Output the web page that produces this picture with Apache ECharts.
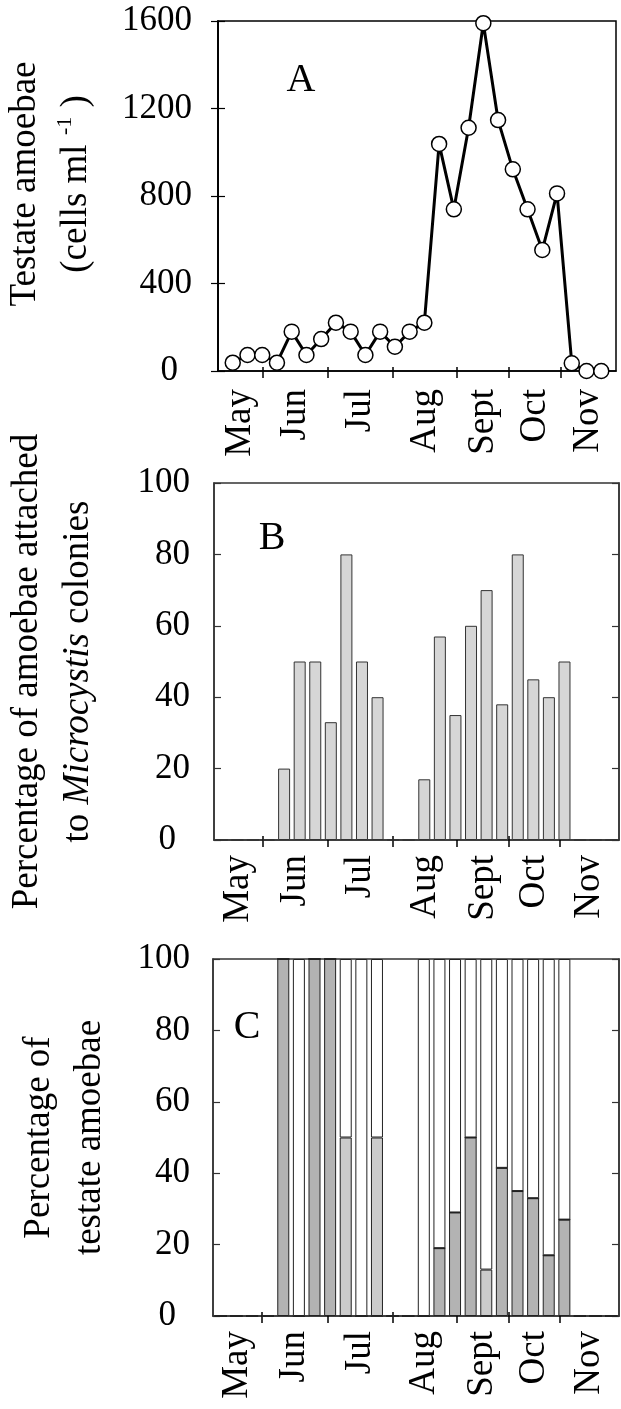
<!DOCTYPE html>
<html>
<head>
<meta charset="utf-8">
<script src="https://cdn.jsdelivr.net/npm/echarts@6/dist/echarts.min.js"></script>
<style>
html,body{margin:0;padding:0;background:#fff;}
#chart{width:621px;height:1409px;}
</style>
</head>
<body>
<div id="chart"></div>
<script>
// ---------- DATA ----------
const months = ['May', 'Jun', 'Jul', 'Aug', 'Sept', 'Oct', 'Nov'];
const samples = [1,2,3,4,5,6,7,8,9,10,11,12,13,14,15,16,17,18,19,20,21,22,23,24,25,26];
// month boundaries, expressed in sample units of each panel's x scale
const monthBoundsA = [3.05, 7.46, 11.87, 16.21, 19.74, 23.27];
const monthBoundsBC = [3.65, 7.82, 11.99, 16.1, 19.43, 22.71];
// Panel A: testate amoebae (cells ml-1)
const amoebaeCells = [38, 73, 73, 38, 180, 73, 146, 221, 180, 73, 180, 111, 180, 221,
                      1038, 739, 1112, 1590, 1147, 922, 739, 553, 812, 35, 0, 0];
// Panel B: percentage attached to Microcystis colonies
const attachedPct = [0, 0, 0, 0, 20, 50, 50, 33, 80, 50, 40, 0, 0,
                     17, 57, 35, 60, 70, 38, 80, 45, 40, 50, 0, 0, 0];
// Panel C: percentage of testate amoebae (stacked)
const darkPct  = [0, 0, 0, 0, 100, 0, 100, 100, 0, 0, 0, 0, 0,
                  0, 19, 29, 50, 0, 41.5, 35, 33, 17, 27, 0, 0, 0];
const lightPct = [0, 0, 0, 0, 0, 0, 0, 0, 50, 0, 50, 0, 0,
                  0, 0, 0, 0, 13, 0, 0, 0, 0, 0, 0, 0, 0];
const whitePct = [0, 0, 0, 0, 0, 100, 0, 0, 50, 100, 50, 0, 0,
                  100, 81, 71, 50, 87, 58.5, 65, 67, 83, 73, 0, 0, 0];
const ticksA = [0, 400, 800, 1200, 1600];
const ticksPct = [0, 20, 40, 60, 80, 100];

// ---------- HELPERS ----------
const FONT = 'Liberation Serif';
function labelPositions(bounds, min, max) {
  const edges = [min].concat(bounds, [max]);
  const out = [];
  for (let i = 0; i < edges.length - 1; i++) out.push((edges[i] + edges[i + 1]) / 2);
  return out;
}
function monthFormatter(pos) {
  return function (v) {
    let best = 0, d = Infinity;
    pos.forEach((p, i) => { if (Math.abs(p - v) < d) { d = Math.abs(p - v); best = i; } });
    return months[best];
  };
}
function yFmt(v) { return v === 0 ? '{z|0}' : String(v); }
const zRich = { z: { fontFamily: FONT, fontSize: 35, color: '#000', padding: [0, 14, 0, 0] } };

function xAxes(grid, min, max, bounds, color, margin, showLine) {
  const pos = labelPositions(bounds, min, max);
  return [
    {
      type: 'value', gridIndex: grid, min: min, max: max, position: 'bottom',
      axisLine: { show: showLine, lineStyle: { color: color, width: 1.5 } },
      axisTick: { show: true, inside: false, length: 7, customValues: bounds, lineStyle: { color: '#000', width: 1.5 } },
      axisLabel: { show: true, customValues: pos, rotate: 90, margin: margin, formatter: monthFormatter(pos),
                   fontFamily: FONT, fontSize: 37, color: '#000' },
      splitLine: { show: false }
    },
    {
      type: 'value', gridIndex: grid, min: min, max: max, position: 'bottom',
      axisLine: { show: false },
      axisTick: { show: true, inside: true, length: 4, customValues: bounds, lineStyle: { color: '#000', width: 1.5 } },
      axisLabel: { show: false },
      splitLine: { show: false }
    }
  ];
}
function yAxes(grid, max, interval, color, margin, name, nameGap, namePadding, rich) {
  return [
    {
      type: 'value', gridIndex: grid, min: 0, max: max, interval: interval, position: 'left',
      axisLine: { show: true, lineStyle: { color: color, width: 1.5 } },
      axisTick: { show: true, inside: true, length: 7, lineStyle: { color: color, width: 1.2 } },
      axisLabel: { margin: margin, formatter: yFmt, rich: zRich, fontFamily: FONT, fontSize: 35, color: '#000' },
      splitLine: { show: false },
      name: name, nameLocation: 'middle', nameRotate: 90, nameGap: nameGap,
      nameTextStyle: Object.assign({ fontFamily: FONT, fontSize: 37, color: '#000', lineHeight: 51,
                       align: 'center', padding: namePadding }, rich ? { rich: rich } : {})
    },
    {
      type: 'value', gridIndex: grid, min: 0, max: max, interval: interval, position: 'right',
      axisLine: { show: true, lineStyle: { color: color, width: 1.5 } },
      axisTick: { show: true, inside: true, length: 7, lineStyle: { color: color, width: 1.2 } },
      axisLabel: { show: false },
      splitLine: { show: false }
    }
  ];
}

const richA = {
  sup: { fontFamily: FONT, fontSize: 22, color: '#000', verticalAlign: 'top', padding: [3, 0, 0, 0] }
};
const richB = {
  i: { fontFamily: FONT, fontSize: 37, fontStyle: 'italic', color: '#000', lineHeight: 51 }
};

const xA = xAxes(0, 0, 27, monthBoundsA, '#000', 18, true);
const xB = xAxes(1, 0.5, 26.5, monthBoundsBC, '#333', 15, true);
// Panel C: category axis carries the stacked bars, value axes carry month ticks/labels
const xCcat = {
  type: 'category', gridIndex: 2, data: samples, boundaryGap: true, position: 'bottom',
  axisLine: { show: true, lineStyle: { color: '#333', width: 1.5 } },
  axisTick: { show: false }, axisLabel: { show: false }, splitLine: { show: false }
};
const xC = xAxes(2, 0.5, 26.5, monthBoundsBC, '#333', 15, false);

const yA = yAxes(0, ticksA[ticksA.length - 1], ticksA[1] - ticksA[0], '#000', 26,
                 'Testate amoebae\n(cells ml {sup|-1} )', 116, [0, 0, 0, 24], richA);
const yB = yAxes(1, ticksPct[ticksPct.length - 1], ticksPct[1] - ticksPct[0], '#333', 24,
                 'Percentage of amoebae attached\nto {i|Microcystis} colonies', 110, [0, 20, 0, 0], richB);
const yC = yAxes(2, ticksPct[ticksPct.length - 1], ticksPct[1] - ticksPct[0], '#333', 23,
                 'Percentage of\ntestate amoebae', 97, [0, 0, 0, 0], null);

const gridBase = { show: true, borderWidth: 1.5, containLabel: false, outerBoundsMode: 'none' };
const option = {
  animation: false,
  backgroundColor: '#fff',
  grid: [
    Object.assign({ left: 218, right: 5, top: 21, height: 350, borderColor: '#000' }, gridBase),
    Object.assign({ left: 214, right: 2, top: 483, height: 357, borderColor: '#333' }, gridBase),
    Object.assign({ left: 213, right: 2, top: 959, height: 357, borderColor: '#333' }, gridBase)
  ],
  // indices: A 0,1 | B 2,3 | C 4 (category), 5, 6
  xAxis: [].concat(xA, xB, [xCcat], xC),
  yAxis: [].concat(yA, yB, yC),
  graphic: [
    { type: 'text', x: 301, y: 80, style: { text: 'A', fontFamily: FONT, fontSize: 40, fill: '#000', align: 'center', verticalAlign: 'middle' } },
    { type: 'text', x: 272, y: 538, style: { text: 'B', fontFamily: FONT, fontSize: 40, fill: '#000', align: 'center', verticalAlign: 'middle' } },
    { type: 'text', x: 247, y: 1027, style: { text: 'C', fontFamily: FONT, fontSize: 40, fill: '#000', align: 'center', verticalAlign: 'middle' } }
  ],
  series: [
    {
      type: 'line', xAxisIndex: 0, yAxisIndex: 0,
      data: samples.map((s, i) => [s, amoebaeCells[i]]),
      symbol: 'circle', symbolSize: 15, clip: false,
      lineStyle: { color: '#000', width: 3 },
      itemStyle: { color: '#fff', borderColor: '#000', borderWidth: 1.5 },
      z: 5
    },
    {
      type: 'bar', xAxisIndex: 2, yAxisIndex: 2,
      data: samples.map((s, i) => [s, attachedPct[i]]),
      barWidth: 12,
      itemStyle: { color: '#d6d6d6', borderColor: '#333', borderWidth: 1 }
    },
    {
      type: 'bar', xAxisIndex: 4, yAxisIndex: 4, stack: 'c',
      data: darkPct,
      barWidth: 12,
      itemStyle: { color: '#b3b3b3', borderColor: '#222', borderWidth: 1 }
    },
    {
      type: 'bar', xAxisIndex: 4, yAxisIndex: 4, stack: 'c',
      data: lightPct,
      barWidth: 12,
      itemStyle: { color: '#cbcbcb', borderColor: '#222', borderWidth: 1 }
    },
    {
      type: 'bar', xAxisIndex: 4, yAxisIndex: 4, stack: 'c',
      data: whitePct,
      barWidth: 12,
      itemStyle: { color: '#ffffff', borderColor: '#222', borderWidth: 1 }
    }
  ]
};

const chart = echarts.init(document.getElementById('chart'), null, { renderer: 'canvas', width: 621, height: 1409 });
chart.setOption(option);
</script>
</body>
</html>
